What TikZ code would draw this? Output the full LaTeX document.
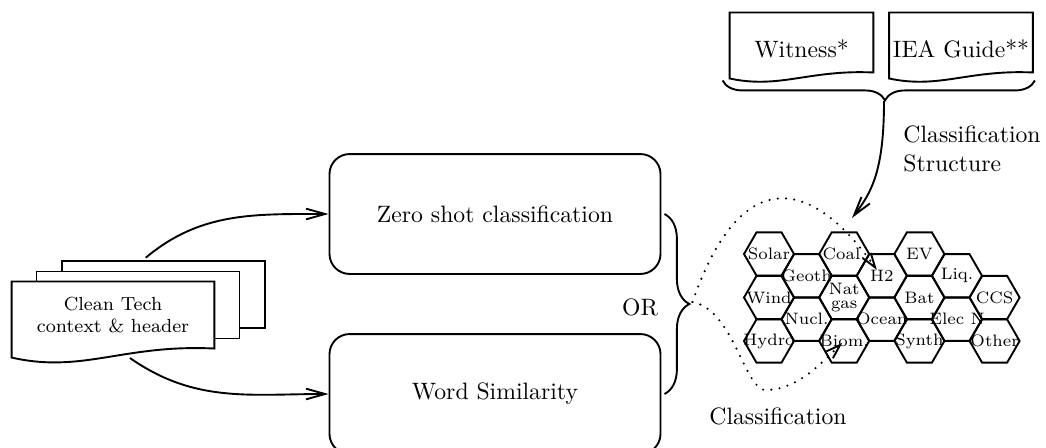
\documentclass[tikz,border=0pt]{standalone}
\usetikzlibrary{arrows.meta,decorations.pathreplacing,shapes.geometric,calc}
\pgfdeclarelayer{back}
\pgfdeclarelayer{sheets}
\pgfsetlayers{back,sheets,main}

% outline of a document sheet with a wavy lower edge
\newcommand\pagewave[2]{%
  \draw[thick, fill=white] (#1.north west) -- ($(#1.south west)+(0,#2)$)
    .. controls ($(#1.south west)!0.35!(#1.south east)+(0,2.8*#2)$)
       and ($(#1.south west)!0.55!(#1.south east)+(0,-0.5*#2)$) .. (#1.south east)
    -- (#1.north east) -- cycle;}

% two-line label, kept out of the cell's size computation
\newcommand\natgas{\smash{\raisebox{-1.75pt}{\begin{tabular}{@{}c@{}}Nat\\[-2pt]gas\end{tabular}}}}

\begin{document}
\begin{tikzpicture}[x=0.422pt, y=-0.422pt,
  procbox/.style={draw, thick, rounded corners=8.5pt, minimum width=139.7pt,
    minimum height=50.6pt, inner sep=0pt},
  hexcell/.style={draw, thick, regular polygon, regular polygon sides=6,
    minimum size=21.1pt, inner sep=0pt, font=\scriptsize},
  backsheet/.style={draw, thick, fill=white, minimum width=85.7pt,
    minimum height=28.3pt, inner sep=0pt},
  frontsheet/.style={minimum width=85.2pt, minimum height=27.9pt, inner sep=0pt,
    align=center, font=\footnotesize},
  refsheet/.style={minimum width=60.3pt, minimum height=24.9pt, inner sep=0pt,
    text height=13pt, text depth=0pt},
  arr/.style={thick, -{Straight Barb[length=8pt,width=4.5pt]}},
  dotarr/.style={line width=1pt, dash pattern=on 0pt off 3.5pt, line cap=round,
    -{Straight Barb[length=6pt,width=4pt,line width=0.8pt]}},
  bracedeco/.style={thick, decorate}]

\useasboundingbox (0,0) rectangle (1046,447);

% stack of input documents
\begin{pgfonlayer}{back}
  \node[backsheet] (d3) at (163.5,294.5) {};
  \node[backsheet] (d2) at (138,305) {};
\end{pgfonlayer}
\node[frontsheet] (src) at (113,315) {Clean Tech\\context \& header};
\begin{pgfonlayer}{sheets}
  \pagewave{src}{9}
\end{pgfonlayer}
\coordinate (srcout) at (130,358);

% the two alternative methods
\node[procbox] (zs) at (495,214) {Zero shot classification};
\node[procbox] (ws) at (495,394) {Word Similarity};

\draw[arr, shorten <=1.5pt] ($(d3.north west)!0.4!(d3.north east)$) to[out=40, in=180] (zs.west);
\draw[arr] (srcout) to[out=-35, in=180] (ws.west);

\draw[bracedeco, decoration={brace, amplitude=10.5pt}]
  ($(zs.east)+(3,0)$) -- ($(ws.east)+(3,0)$);
\coordinate (b1) at ($(zs.east)!0.5!(ws.east)+(31,-2)$);
\node (or) at (640,307) {OR};

% grid of technology classes
\foreach \c/\r/\t/\n in {0/0/Solar/solar, 0/1/Wind/wind, 0/2/Hydro/hydro,
    1/0/Geoth/geoth, 1/1/Nucl./nucl,
    2/0/Coal./coal, 2/1/\natgas/natgas, 2/2/Biom./biom,
    3/0/H2/h2, 3/1/Ocean/ocean,
    4/0/EV/ev, 4/1/Bat/bat, 4/2/Synth/synth,
    5/0/Liq./liq, 5/1/Elec N/elec,
    6/1/CCS/ccs, 6/2/Other/other} {
  \pgfmathsetmacro\hx{769+37.6*\c}
  \pgfmathsetmacro\hy{254+43.5*\r+21.75*mod(\c,2)}
  \node[hexcell] (\n) at (\hx,\hy) {\makebox[0pt]{\t}};
}

\draw[dotarr] (b1) .. controls (740,165) and (810,175) .. ($(h2)+(-5,-6)$);
\draw[dotarr] (b1) .. controls (735,310) and (745,395) .. (768,390)
  .. controls (800,388) and (822,362) .. ($(biom)+(-2,2)$);
\node (cls) at (778,416) {Classification};

% reference taxonomies
\node[refsheet] (wit) at (801.5,42.5) {Witness*};
\node[refsheet] (iea) at (961,42.5) {IEA Guide**};
\begin{pgfonlayer}{sheets}
  \pagewave{wit}{6}
  \pagewave{iea}{6}
\end{pgfonlayer}
\draw[bracedeco, decoration={brace, amplitude=8.4pt, aspect=0.48}]
  ($(iea.south east)+(2,8)$) -- ($(wit.south west)+(-7,8)$);
\coordinate (b2) at (884,101);
\coordinate (cs) at (852,218);
\draw[arr] (b2) .. controls (884,170) and (872,192) .. (cs);
\node[anchor=west, align=left, inner sep=0pt] (csl) at (903,149) {Classification\\Structure};

\end{tikzpicture}
\end{document}
